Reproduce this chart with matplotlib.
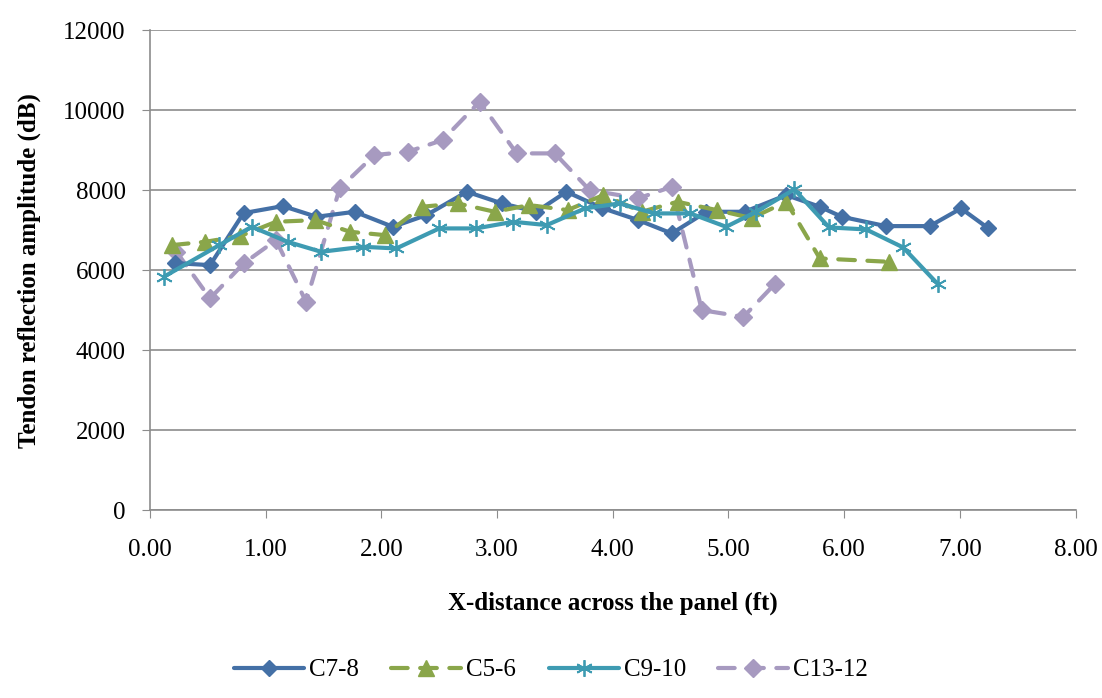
import numpy as np
import matplotlib.pyplot as plt

plt.rcParams['font.family'] = ['Liberation Serif', 'DejaVu Serif']

# Series data
x_c78 = [0.22, 0.52, 0.81, 1.15, 1.44, 1.77, 2.10, 2.39, 2.74, 3.04, 3.34, 3.60,
         3.91, 4.22, 4.51, 4.81, 5.14, 5.50, 5.79, 5.98, 6.36, 6.74, 7.01, 7.24]
y_c78 = [6175, 6125, 7425, 7600, 7333, 7458, 7083, 7375, 7958, 7670, 7458, 7958,
         7550, 7250, 6917, 7458, 7458, 7875, 7583, 7333, 7100, 7100, 7542, 7058]

x_c56 = [0.19, 0.48, 0.78, 1.09, 1.43, 1.73, 2.03, 2.35, 2.66, 2.98, 3.28, 3.61,
         3.92, 4.25, 4.56, 4.90, 5.20, 5.50, 5.79, 6.39]
y_c56 = [6625, 6708, 6850, 7208, 7250, 6958, 6875, 7583, 7667, 7458, 7625, 7500,
         7875, 7458, 7708, 7500, 7300, 7708, 6292, 6208]

x_c910 = [0.12, 0.60, 0.88, 1.19, 1.48, 1.84, 2.13, 2.50, 2.82, 3.14, 3.43, 3.76,
          4.06, 4.36, 4.67, 4.98, 5.24, 5.57, 5.87, 6.19, 6.51, 6.81]
y_c910 = [5833, 6625, 7083, 6708, 6458, 6583, 6542, 7042, 7042, 7208, 7125, 7542,
          7667, 7417, 7417, 7083, 7458, 8017, 7067, 7017, 6567, 5650]

x_c1312 = [0.23, 0.52, 0.81, 1.09, 1.35, 1.64, 1.94, 2.23, 2.53, 2.85, 3.17, 3.50,
           3.80, 4.22, 4.51, 4.77, 5.13, 5.40]
y_c1312 = [6458, 5292, 6167, 6750, 5208, 8042, 8875, 8958, 9250, 10208, 8917, 8917,
           8000, 7792, 8083, 5000, 4833, 5650]

fig = plt.figure(figsize=(11.02, 6.98), dpi=100)
ax = fig.add_axes([0.136, 0.269, 0.840, 0.688])

ax.plot(x_c78, y_c78, color='#4470A6', lw=3, marker='D', ms=8.5, label='C7-8',
        solid_capstyle='round', zorder=3)
ax.plot(x_c56, y_c56, color='#8AA64A', lw=3, ls=(0, (4, 3)), marker='^', ms=11,
        label='C5-6', dash_capstyle='round', zorder=4)
ax.plot(x_c910, y_c910, color='#3E9BB2', lw=3, marker=(6, 2, 0), ms=12, mew=1.3,
        label='C9-10', solid_capstyle='round', zorder=5)
ax.plot(x_c1312, y_c1312, color='#A79AC0', lw=3, ls=(0, (4, 3)), marker='D', ms=9,
        label='C13-12', dash_capstyle='round', zorder=2)

ax.set_xlim(0, 8)
ax.set_ylim(0, 12000)
ax.set_xticks(np.arange(0, 9, 1))
ax.set_xticklabels([f'{v:.2f}' for v in np.arange(0, 9, 1)])
ax.set_yticks(np.arange(0, 12001, 2000))
ax.tick_params(labelsize=18, color='#8c8c8c', length=5.5, direction='out')
ax.tick_params(axis='x', pad=15)
ax.tick_params(axis='y', pad=12)

ax.grid(axis='y', color='#8c8c8c', lw=1.2)
ax.set_axisbelow(True)
for s in ['top', 'right']:
    ax.spines[s].set_visible(False)
for s in ['left', 'bottom']:
    ax.spines[s].set_color('#8c8c8c')
    ax.spines[s].set_linewidth(1.2)

ax.set_xlabel('X-distance across the panel (ft)', fontsize=18, fontweight='bold', labelpad=22)
ax.set_ylabel('Tendon reflection amplitude (dB)', fontsize=18, fontweight='bold', labelpad=16)

fig.legend(loc='center', bbox_to_anchor=(0.5, 0.040), ncol=4, frameon=False,
           fontsize=18, handlelength=2.8, columnspacing=1.3, handletextpad=0.2)

fig.savefig('out.png', dpi=100)
